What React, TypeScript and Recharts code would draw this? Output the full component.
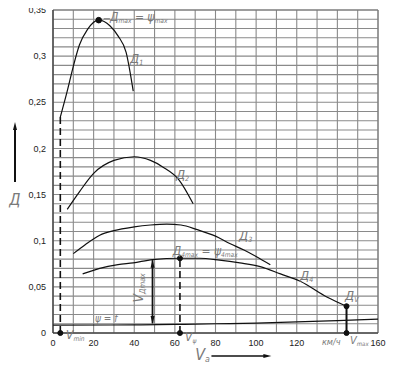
import React from 'react';
import {
  ComposedChart, Line, XAxis, YAxis, CartesianGrid, ReferenceLine, ReferenceDot, ReferenceArea,
} from 'recharts';

// Dynamic characteristic curves (V in km/h, D dimensionless)
const d1 = [
  { x: 3.6, y: 0.234 }, { x: 7, y: 0.262 }, { x: 10, y: 0.289 }, { x: 13, y: 0.312 },
  { x: 17, y: 0.329 }, { x: 22.5, y: 0.339 }, { x: 28, y: 0.333 }, { x: 32, y: 0.322 },
  { x: 36, y: 0.304 }, { x: 39.5, y: 0.262 },
];
const d2 = [
  { x: 7, y: 0.134 }, { x: 13, y: 0.153 }, { x: 20, y: 0.173 }, { x: 30, y: 0.187 },
  { x: 40, y: 0.191 }, { x: 48, y: 0.187 }, { x: 54, y: 0.180 }, { x: 62, y: 0.166 },
  { x: 69, y: 0.140 },
];
const d3 = [
  { x: 10, y: 0.086 }, { x: 16, y: 0.096 }, { x: 23, y: 0.106 }, { x: 30, y: 0.111 },
  { x: 40, y: 0.115 }, { x: 48, y: 0.117 }, { x: 56, y: 0.118 }, { x: 63, y: 0.117 },
  { x: 71, y: 0.112 }, { x: 80, y: 0.105 }, { x: 87, y: 0.097 }, { x: 94, y: 0.090 },
  { x: 100, y: 0.083 }, { x: 107, y: 0.074 },
];
const d4 = [
  { x: 14.6, y: 0.064 }, { x: 23, y: 0.070 }, { x: 32, y: 0.074 }, { x: 39.5, y: 0.076 },
  { x: 49, y: 0.0795 }, { x: 62.5, y: 0.081 }, { x: 72, y: 0.081 }, { x: 82, y: 0.079 },
  { x: 92, y: 0.076 }, { x: 102, y: 0.072 }, { x: 112, y: 0.064 }, { x: 121.7, y: 0.056 },
  { x: 134.8, y: 0.039 }, { x: 144.5, y: 0.029 },
];
const psi = [
  { x: 0, y: 0.0085 }, { x: 40, y: 0.0088 }, { x: 60, y: 0.0093 }, { x: 80, y: 0.0100 },
  { x: 100, y: 0.0108 }, { x: 120, y: 0.0120 }, { x: 140, y: 0.0135 }, { x: 160, y: 0.0150 },
];

const xTicks = [0, 10, 20, 30, 40, 50, 60, 70, 80, 90, 100, 110, 120, 130, 140, 150, 160];
const xLabels = [0, 20, 40, 60, 80, 100, 120, 160];
const yTicks = [
  0, 0.01, 0.02, 0.03, 0.04, 0.05, 0.06, 0.07, 0.08, 0.09, 0.1, 0.11, 0.12, 0.13, 0.14, 0.15,
  0.16, 0.17, 0.18, 0.19, 0.2, 0.21, 0.22, 0.23, 0.24, 0.25, 0.26, 0.27, 0.28, 0.29, 0.3,
  0.31, 0.32, 0.33, 0.34, 0.35,
];

// Key velocities and values
const vMin = 3.6;
const dMin = 0.234;
const vPsi = 62.5;
const d4Max = 0.081;
const vMax = 144.5;
const dV = 0.029;
const vDmax = 49;
const d1Peak = { x: 22.5, y: 0.339 };

const LBL = '#7a7a7a';
const FONT = '"DejaVu Sans Condensed", "DejaVu Sans", sans-serif';

type Part = [string, boolean];

const makeText = (parts: Part[], size = 12, rotate = false) => (p: any) => {
  const cx = p.cx, cy = p.cy;
  return (
    <text
      x={cx}
      y={cy}
      fontFamily={FONT}
      fontStyle="italic"
      fontSize={size}
      fill={LBL}
      transform={rotate ? `rotate(-90 ${cx} ${cy})` : undefined}
    >
      {parts.map(([t, sub], i) => (
        <tspan key={i} fontSize={sub ? size * 0.55 : size} dy={sub ? 2 : (i > 0 && parts[i - 1][1] ? -2 : 0)}>
          {t}
        </tspan>
      ))}
    </text>
  );
};

const tri = (dir: 'up' | 'down' | 'right', s = 4) => (p: any) => {
  const { cx, cy } = p;
  let pts = '';
  if (dir === 'up') pts = `${cx},${cy} ${cx - s / 2},${cy + s * 2} ${cx + s / 2},${cy + s * 2}`;
  if (dir === 'down') pts = `${cx},${cy} ${cx - s / 2},${cy - s * 2} ${cx + s / 2},${cy - s * 2}`;
  if (dir === 'right') pts = `${cx},${cy} ${cx - s * 2},${cy - s / 2} ${cx - s * 2},${cy + s / 2}`;
  return <polygon points={pts} fill="#111" />;
};

const yFmt = (v: number) => {
  const k = Math.round(v * 100);
  if (k % 5 !== 0) return '';
  return String(k / 100).replace('.', ',');
};
const xFmt = (v: number) => (xLabels.includes(v) ? String(v) : '');

const tickStyle = { fontSize: 9, fill: '#222', fontFamily: '"Liberation Sans", Arial, sans-serif' };

export default function App() {
  const lineProps = {
    dataKey: 'y',
    type: 'monotone' as const,
    dot: false,
    activeDot: false,
    stroke: '#111',
    strokeWidth: 1.2,
    isAnimationActive: false,
  };
  return (
    <div style={{ margin: '-8px 0 0 -8px', width: 403, height: 370 }}>
      <ComposedChart width={403} height={370} margin={{ top: 10, right: 25, left: 0, bottom: 7 }}>
        <CartesianGrid stroke="#8a8a8a" strokeWidth={1.1} />
        <XAxis
          dataKey="x"
          type="number"
          domain={[0, 160]}
          ticks={xTicks}
          tickFormatter={xFmt}
          interval={0}
          tickLine={false}
          tickSize={0}
          tickMargin={7}
          height={30}
          axisLine={{ stroke: '#333' }}
          tick={tickStyle}
        />
        <YAxis
          type="number"
          domain={[0, 0.35]}
          ticks={yTicks}
          tickFormatter={yFmt}
          interval={0}
          tickLine={false}
          tickSize={0}
          tickMargin={7}
          width={53}
          axisLine={{ stroke: '#333' }}
          tick={tickStyle}
        />
        <ReferenceArea x1={0} x2={160} y1={0} y2={0.35} fill="none" stroke="#777" strokeWidth={1} />

        <Line data={d1} {...lineProps} />
        <Line data={d2} {...lineProps} />
        <Line data={d3} {...lineProps} />
        <Line data={d4} {...lineProps} />
        <Line data={psi} {...lineProps} />

        {/* V min dashed */}
        <ReferenceLine segment={[{ x: vMin, y: 0 }, { x: vMin, y: dMin }]} stroke="#111" strokeWidth={1.6} strokeDasharray="7 4" />
        <ReferenceDot x={vMin} y={0} r={2.5} fill="#111" stroke="#111" ifOverflow="visible" />
        {/* V psi dashed */}
        <ReferenceLine segment={[{ x: vPsi, y: 0 }, { x: vPsi, y: d4Max }]} stroke="#111" strokeWidth={1.6} strokeDasharray="7 4" />
        <ReferenceDot x={vPsi} y={0} r={2.5} fill="#111" stroke="#111" ifOverflow="visible" />
        <ReferenceDot x={vPsi} y={d4Max} r={2.5} fill="#111" stroke="#111" ifOverflow="visible" />
        {/* V max solid */}
        <ReferenceLine segment={[{ x: vMax, y: 0 }, { x: vMax, y: dV }]} stroke="#111" strokeWidth={2} />
        <ReferenceDot x={vMax} y={0} r={2.5} fill="#111" stroke="#111" ifOverflow="visible" />
        <ReferenceDot x={vMax} y={dV} r={2.5} fill="#111" stroke="#111" ifOverflow="visible" />
        {/* D1 peak */}
        <ReferenceDot x={d1Peak.x} y={d1Peak.y} r={2.8} fill="#111" stroke="#111" ifOverflow="visible" />
        <ReferenceLine segment={[{ x: 25, y: 0.3405 }, { x: 28, y: 0.3405 }]} stroke="#777" strokeWidth={1} />
        {/* V_Dmax double arrow */}
        <ReferenceLine segment={[{ x: vDmax, y: 0.0105 }, { x: vDmax, y: 0.079 }]} stroke="#111" strokeWidth={1.8} />
        <ReferenceDot x={vDmax} y={0.0795} shape={tri('up')} ifOverflow="visible" />
        <ReferenceDot x={vDmax} y={0.0098} shape={tri('down')} ifOverflow="visible" />

        {/* Y axis label with arrow */}
        <ReferenceLine segment={[{ x: -18.7, y: 0.1636 }, { x: -18.7, y: 0.222 }]} stroke="#111" strokeWidth={2} ifOverflow="visible" />
        <ReferenceDot x={-18.7} y={0.2286} shape={tri('up', 4)} ifOverflow="visible" />
        <ReferenceDot x={-21.6} y={0.1387} shape={makeText([['Д', false]], 16)} ifOverflow="visible" />

        {/* X axis label with arrow */}
        <ReferenceLine segment={[{ x: 78, y: -0.025 }, { x: 104, y: -0.025 }]} stroke="#111" strokeWidth={1.6} ifOverflow="visible" />
        <ReferenceDot x={107.5} y={-0.025} shape={tri('right', 4)} ifOverflow="visible" />
        <ReferenceDot x={70} y={-0.029} shape={makeText([['V', false], ['a', true]], 16)} ifOverflow="visible" />

        {/* Curve labels */}
        <ReferenceDot x={28.1} y={0.338} shape={makeText([['Д', false], ['max', true], [' = ψ', false], ['max', true]], 12)} ifOverflow="visible" />
        <ReferenceDot x={37.9} y={0.2925} shape={makeText([['Д', false], ['1', true]], 13)} ifOverflow="visible" />
        <ReferenceDot x={60.5} y={0.167} shape={makeText([['Д', false], ['2', true]], 13)} ifOverflow="visible" />
        <ReferenceDot x={91.6} y={0.1008} shape={makeText([['Д', false], ['3', true]], 13)} ifOverflow="visible" />
        <ReferenceDot x={59} y={0.0845} shape={makeText([['Д', false], ['4max', true], [' = ψ', false], ['4max', true]], 12)} ifOverflow="visible" />
        <ReferenceDot x={121.6} y={0.0574} shape={makeText([['Д', false], ['4', true]], 13)} ifOverflow="visible" />
        <ReferenceDot x={143.8} y={0.0358} shape={makeText([['Д', false], ['V', true]], 13)} ifOverflow="visible" />
        <ReferenceDot x={20.7} y={0.0119} shape={makeText([['ψ = f', false]], 10)} ifOverflow="visible" />
        <ReferenceDot x={44.5} y={0.033} shape={makeText([['V', false], ['Дmax', true]], 14, true)} ifOverflow="visible" />

        {/* Axis annotations */}
        <ReferenceDot x={6.4} y={-0.0065} shape={makeText([['V', false], ['min', true]], 12)} ifOverflow="visible" />
        <ReferenceDot x={65} y={-0.0087} shape={makeText([['V', false], ['ψ', true]], 12)} ifOverflow="visible" />
        <ReferenceDot x={132.4} y={-0.0135} shape={makeText([['км/ч', false]], 9)} ifOverflow="visible" />
        <ReferenceDot x={146.2} y={-0.0115} shape={makeText([['V', false], ['max', true]], 11)} ifOverflow="visible" />
      </ComposedChart>
    </div>
  );
}
